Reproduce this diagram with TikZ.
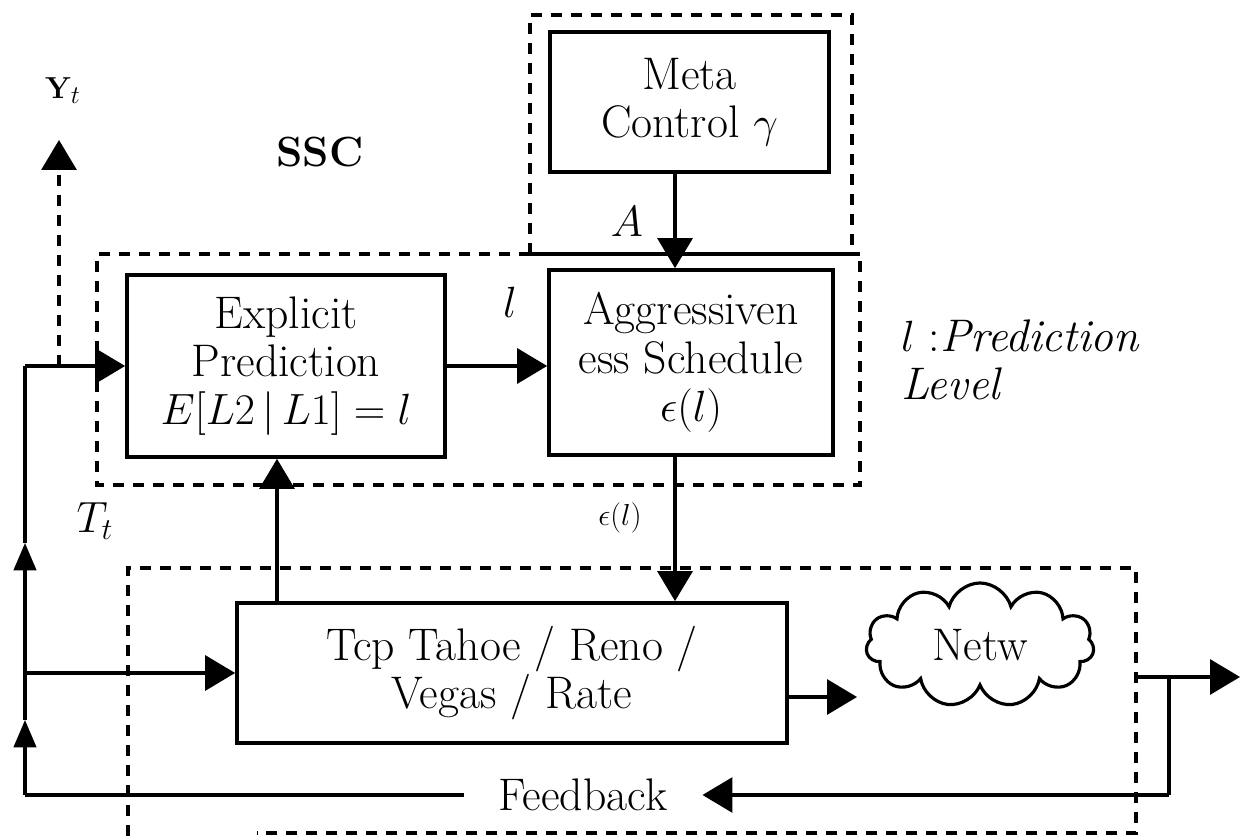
\documentclass[tikz,border=0pt]{standalone}
\usetikzlibrary{arrows.meta,shapes.symbols}
\begin{document}
\begin{tikzpicture}[every node/.style={font=\fontsize{26}{27.5}\selectfont},
  blk/.style={draw, line width=2.1pt, align=center, inner sep=0pt},
  grp/.style={line width=2pt, dash pattern=on 0.22cm off 0.18cm},
  arr/.style={line width=1.8pt, -{Triangle[length=0.6cm,width=0.7cm]}},
  mid/.style={line width=1.8pt, -{Triangle[length=0.55cm,width=0.45cm]}},
  lbl/.style={font=\fontsize{19}{19}\selectfont}]
  \useasboundingbox (0,0) rectangle (24.94,16.72);
  \draw[grp] (10.6,11.64) -- (10.6,16.42) -- (17.04,16.42) -- (17.04,11.64);
  \draw[grp] (10.6,11.64) -- (1.94,11.64) -- (1.94,7.02) -- (17.2,7.02) -- (17.2,11.64);
  \draw[line width=2pt] (10.6,11.64) -- (17.2,11.64);
  \draw[grp] (2.56,0) -- (2.56,5.36) -- (22.72,5.36) -- (22.72,0.06) -- (5.14,0.06);
  \node[blk, minimum width=5.58cm, minimum height=2.8cm] (meta) at (13.79,14.68) {Meta\\Control $\gamma$};
  \node[blk, minimum width=6.36cm, minimum height=3.64cm] (expl) at (5.72,9.4) {Explicit\\Prediction\\$E[L2\,|\,L1]=l$};
  \node[blk, minimum width=5.68cm, minimum height=3.7cm] (aggr) at (13.82,9.47) {Aggressiven\\ess Schedule\\$\epsilon(l)$};
  \node[blk, minimum width=11cm, minimum height=2.8cm] (tcp) at (10.24,3.26) {Tcp Tahoe / Reno /\\Vegas / Rate};
  \node[draw, cloud, cloud puffs=11, cloud ignores aspect, minimum width=4.56cm, minimum height=2.48cm, line width=1.8pt] (netw) at (19.6,3.82) {Netw};
  \node[inner sep=0.7cm] (fb) at (11.66,0.82) {Feedback};
  \node[lbl] (ytl) at (1.26,14.9) {$\mathbf{Y}_t$};
  \node[font=\fontsize{24}{24}\selectfont\bfseries] (ssc) at (6.4,13.68) {SSC};
  \node (al) at (12.54,12.28) {$A$};
  \node (ll) at (10.2,10.68) {$l$};
  \node[lbl] (el) at (12.4,6.36) {$\epsilon(l)$};
  \node (tl) at (1.9,6.3) {$T_t$};
  \node[anchor=west, align=left] (pl) at (17.9,9.52) {$l$ :\textit{Prediction}\\\textit{Level}};
  \coordinate (lx) at (0.5,0); \coordinate (dn) at (13.5,0); \coordinate (up) at (5.54,0);
  \coordinate (yt) at (1.18,13.92); \coordinate (lb) at (0.5,0.82);
  \coordinate (m1) at (0.5,2.32); \coordinate (m2) at (0.5,5.86);
  \coordinate (nw) at (17.14,2.78); \coordinate (os) at (22.72,3.18);
  \coordinate (oj) at (23.38,3.18); \coordinate (out) at (24.8,3.18);
  \coordinate (br) at (23.38,0.82);
  \draw[arr] (expl.east) -- (expl.east -| aggr.west);
  \draw[arr] (meta.south -| dn) -- (aggr.north -| dn);
  \draw[arr] (aggr.south -| dn) -- (tcp.north -| dn);
  \draw[arr] (tcp.north -| up) -- (expl.south -| up);
  \draw[arr] ([yshift=-0.48cm]tcp.east) -- (nw);
  \draw[line width=1.8pt] (os) -- (oj) -- (br);
  \draw[arr] (oj) -- (out);
  \draw[arr] (br) -- (fb.east);
  \draw[line width=1.8pt] (fb.west) -- (lb);
  \draw[mid] (lb) -- (m1);
  \draw[mid] (m1) -- (m2);
  \draw[line width=1.8pt] (m2) -- (lx |- expl.west);
  \draw[arr] (lx |- expl.west) -- (expl.west);
  \draw[arr] (lx |- tcp.west) -- (tcp.west);
  \draw[arr, dash pattern=on 0.22cm off 0.18cm] (yt |- expl.west) -- (yt);
\end{tikzpicture}
\end{document}
